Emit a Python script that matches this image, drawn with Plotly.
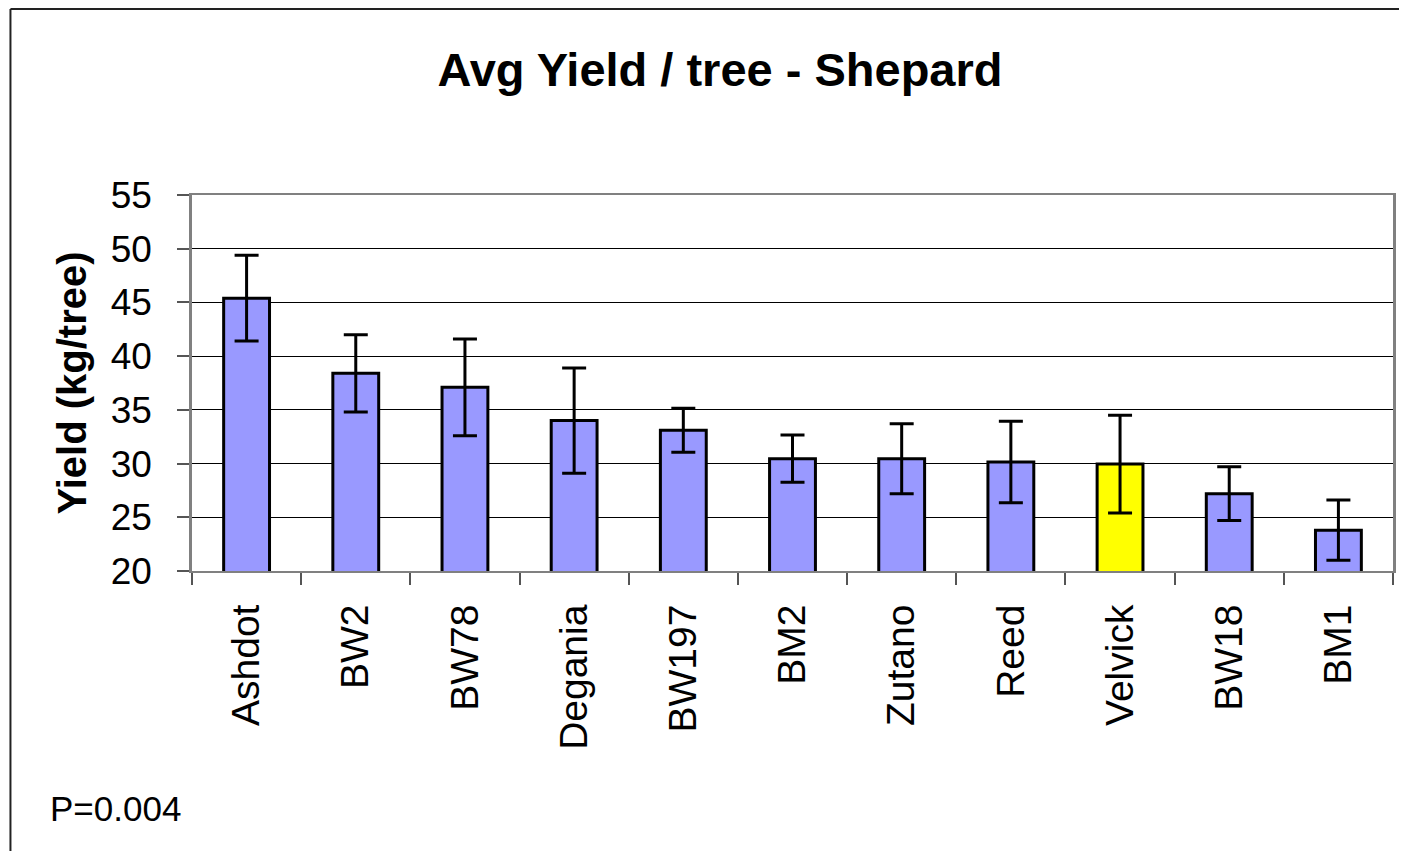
import plotly.graph_objects as go

# data
cultivars = ["Ashdot", "BW2", "BW78", "Degania", "BW197", "BM2",
             "Zutano", "Reed", "Velvick", "BW18", "BM1"]
avg_yield = [45.4, 38.4, 37.1, 34.0, 33.1, 30.45, 30.45, 30.15, 29.95, 27.2, 23.8]
yield_err = [4.0, 3.6, 4.5, 4.9, 2.05, 2.2, 3.25, 3.8, 4.55, 2.5, 2.8]
y_ticks = [20, 25, 30, 35, 40, 45, 50, 55]
highlight = "Velvick"
p_value_text = "P=0.004"

# the page body adds an 8px margin, so the figure is sized to fit the window
OFF = 8
W, H = 1407 - OFF, 851 - OFF
L, R, T, B = 192 - OFF, 11, 195 - OFF, 280
plot_w = W - L - R
plot_h = H - T - B


def px_to_paper_x(px):
    # px measured in window coordinates
    return (px - OFF - L) / plot_w


def px_to_paper_y(py):
    return (H - B - (py - OFF)) / plot_h


FONT = "Liberation Sans, Arial, sans-serif"
bar_colors = ["#FFFF00" if c == highlight else "#9999FF" for c in cultivars]

fig = go.Figure()
fig.add_trace(go.Bar(
    x=cultivars,
    y=avg_yield,
    marker=dict(color=bar_colors, line=dict(color="black", width=3)),
    error_y=dict(type="data", array=yield_err, visible=True,
                 color="black", thickness=3, width=12),
))

fig.update_layout(
    width=W, height=H,
    margin=dict(l=L, r=R, t=T, b=B),
    paper_bgcolor="white",
    plot_bgcolor="white",
    showlegend=False,
    bargap=0.58,
    font=dict(family=FONT, color="black"),
    title=dict(
        text="<b>Avg Yield / tree - Shepard</b>",
        font=dict(size=47, family=FONT, color="black"),
        x=(720 - OFF) / W, xanchor="center",
        y=1 - (70 - OFF) / H, yanchor="middle",
    ),
)

fig.update_xaxes(
    type="category",
    tickangle=-90,
    tickfont=dict(size=39, family=FONT, color="black"),
    ticks="outside", ticklen=12, tickcolor="#555555", tickwidth=1.5,
    tickson="boundaries",
    ticklabelstandoff=16,
    showline=True, linecolor="#808080", linewidth=2, mirror=True,
    showgrid=False,
)

fig.update_yaxes(
    range=[20, 55],
    tickvals=y_ticks,
    tickfont=dict(size=37, family=FONT, color="black"),
    ticks="outside", ticklen=12, tickcolor="#555555", tickwidth=1.5,
    ticklabelstandoff=18,
    showline=True, linecolor="#808080", linewidth=2.5, mirror=True,
    showgrid=True, gridcolor="black", gridwidth=1,
    zeroline=False,
    title=dict(text="<b>Yield (kg/tree)</b>",
               font=dict(size=40, family=FONT, color="black"),
               standoff=12),
)

# P value note, bottom left
fig.add_annotation(
    text=p_value_text,
    xref="paper", yref="paper",
    x=px_to_paper_x(48), y=px_to_paper_y(808),
    xanchor="left", yanchor="middle",
    showarrow=False,
    font=dict(size=35, family=FONT, color="black"),
)

# chart area frame: only the top and left edges are inside the picture
frame = dict(color="#222222", width=2)
fig.add_shape(
    type="line", xref="paper", yref="paper",
    x0=px_to_paper_x(10), x1=px_to_paper_x(1407),
    y0=px_to_paper_y(9), y1=px_to_paper_y(9),
    line=frame, layer="below",
)
fig.add_shape(
    type="line", xref="paper", yref="paper",
    x0=px_to_paper_x(10), x1=px_to_paper_x(10),
    y0=px_to_paper_y(9), y1=px_to_paper_y(851),
    line=frame, layer="below",
)

fig.write_html("out.html")
